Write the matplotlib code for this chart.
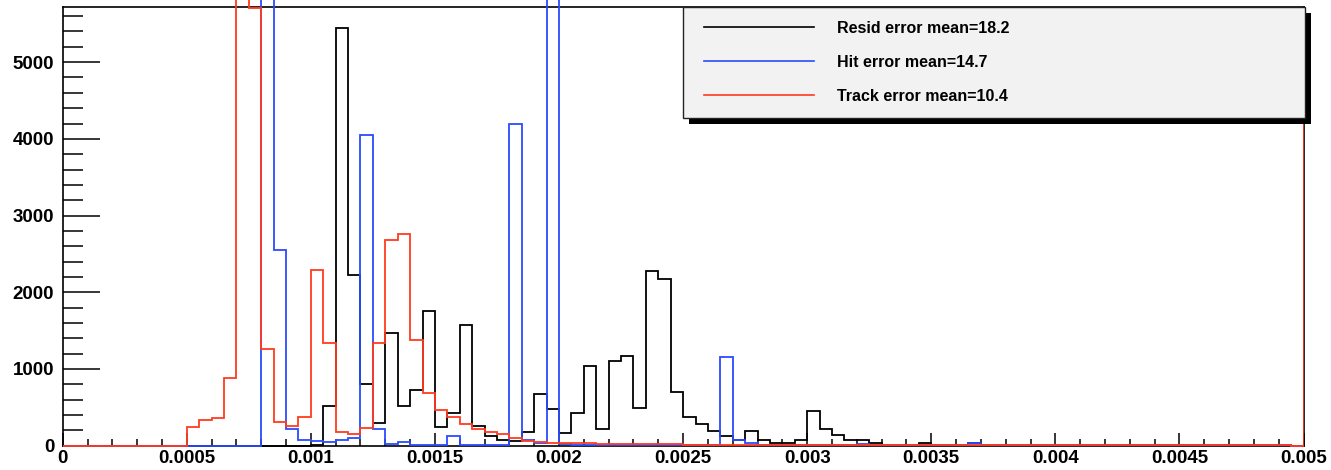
import matplotlib
matplotlib.use("Agg")
import matplotlib.pyplot as plt
import numpy as np
from matplotlib.lines import Line2D
from matplotlib.patches import Rectangle
from matplotlib.transforms import IdentityTransform
from matplotlib.legend_handler import HandlerLine2D
from matplotlib.ticker import MultipleLocator

plt.rcParams["font.family"] = ["Liberation Sans", "DejaVu Sans"]
plt.rcParams["font.weight"] = "bold"

# 100 bins from 0 to 0.005
x_range = (0.0, 0.005)
y_max = 5715

resid_counts = [
    0, 0, 0, 0, 0, 0, 0, 0, 0, 0,
    0, 0, 0, 0, 0, 0, 0, 0, 0, 0,
    10, 524, 5441, 2225, 798, 290, 1475, 515, 732, 1754,
    245, 425, 1571, 258, 120, 70, 60, 174, 680, 475,
    160, 425, 1034, 218, 1105, 1175, 497, 2274, 2175, 698,
    380, 284, 196, 131, 74, 196, 78, 30, 30, 78,
    449, 218, 144, 74, 74, 30, 10, 5, 5, 30,
    5, 5, 5, 30, 15, 15, 15, 5, 15, 15,
    5, 5, 15, 5, 5, 15, 5, 5, 5, 5,
    5, 5, 5, 15, 15, 5, 5, 5, 5, 0,
]
hit_counts = [
    0, 0, 0, 0, 0, 0, 0, 0, 0, 0,
    0, 0, 0, 0, 0, 0, 6500, 2555, 218, 76,
    65, 45, 76, 105, 4045, 218, 28, 45, 8, 5,
    5, 125, 5, 5, 5, 5, 4200, 70, 30, 6500,
    25, 12, 10, 5, 3, 3, 3, 3, 3, 3,
    3, 3, 3, 1156, 78, 30, 15, 3, 3, 3,
    3, 3, 3, 13, 25, 3, 3, 13, 13, 13,
    3, 3, 3, 30, 3, 3, 3, 3, 3, 3,
    3, 3, 3, 3, 3, 3, 3, 3, 3, 3,
    13, 13, 13, 3, 3, 3, 3, 3, 3, 0,
]
track_counts = [
    0, 0, 0, 0, 0, 0, 0, 0, 0, 0,
    240, 336, 363, 886, 6500, 5700, 1266, 305, 262, 371,
    2291, 1339, 174, 153, 227, 1339, 2675, 2757, 1383, 685,
    460, 380, 284, 218, 183, 158, 98, 65, 43, 40,
    40, 40, 40, 22, 20, 20, 20, 20, 20, 20,
    10, 10, 10, 10, 10, 10, 10, 10, 10, 10,
    5, 5, 5, 5, 5, 5, 5, 5, 5, 5,
    5, 5, 5, 5, 5, 5, 5, 5, 5, 5,
    5, 5, 5, 5, 5, 5, 5, 5, 5, 5,
    5, 5, 5, 5, 5, 5, 5, 5, 5, 0,
]

series_labels = ["Resid error mean=18.2", "Hit error mean=14.7", "Track error mean=10.4"]
series_colors = ["#000000", "#2b4bff", "#ff3b1f"]

x_ticks = [0, 0.0005, 0.001, 0.0015, 0.002, 0.0025, 0.003, 0.0035, 0.004, 0.0045, 0.005]
x_tick_labels = ["0", "0.0005", "0.001", "0.0015", "0.002", "0.0025",
                 "0.003", "0.0035", "0.004", "0.0045", "0.005"]
y_ticks = [0, 1000, 2000, 3000, 4000, 5000]
y_tick_labels = ["0", "1000", "2000", "3000", "4000", "5000"]

W, H, DPI = 1331, 470, 100
fig = plt.figure(figsize=(W / DPI, H / DPI), dpi=DPI)
ax = fig.add_axes([62.7 / W, 1 - 445.7 / H, (1303.5 - 62.7) / W, (445.7 - 7.3) / H])

edges = np.linspace(x_range[0], x_range[1], len(resid_counts) + 1)
for counts, color in zip([resid_counts, hit_counts, track_counts], series_colors):
    ax.stairs(counts, edges, baseline=0, color=color, lw=1.3, clip_on=False, zorder=3)
ax.axvline(edges[-1], color=series_colors[2], lw=1.3, zorder=3)

ax.set_xlim(*x_range)
ax.set_ylim(0, y_max)

tick_fs = 13.5
ax.set_xticks(x_ticks)
ax.set_xticklabels(x_tick_labels, fontsize=tick_fs, fontweight="bold")
ax.set_yticks(y_ticks)
ax.set_yticklabels(y_tick_labels, fontsize=tick_fs, fontweight="bold")
ax.xaxis.set_minor_locator(MultipleLocator(0.0001))
ax.yaxis.set_minor_locator(MultipleLocator(200))
ax.tick_params(axis="x", which="major", direction="in", length=9.4, width=1.1, pad=3)
ax.tick_params(axis="x", which="minor", direction="in", length=4.7, width=1.1)
ax.tick_params(axis="y", which="major", direction="in", length=26.6, width=1.1, pad=6)
ax.tick_params(axis="y", which="minor", direction="in", length=14.4, width=1.1)
for s in ax.spines.values():
    s.set_linewidth(1.2)

# legend, ROOT style box with a hard shadow
fs = 11.5
fs_px = fs * DPI / 72
handles = [Line2D([], [], color=c, lw=1.2) for c in series_colors]
leg = fig.legend(
    handles, series_labels,
    loc="upper left",
    bbox_to_anchor=(683 / W, 1 - 118 / H, (1305 - 683) / W, 111 / H),
    mode="expand", borderaxespad=0,
    prop={"size": fs, "weight": "bold"},
    frameon=True, fancybox=False, framealpha=1,
    facecolor="#f2f2f2", edgecolor="#222222",
    borderpad=14 / fs_px, labelspacing=19 / fs_px,
    handlelength=117 / fs_px, handletextpad=23 / fs_px,
    handler_map={Line2D: HandlerLine2D(xpad=7 / fs_px)},
)
leg.get_frame().set_linewidth(1.0)

fig.canvas.draw()
bb = leg.get_window_extent()
fig.add_artist(Rectangle((bb.x0 + 6, bb.y0 - 6), bb.width, bb.height,
                         transform=IdentityTransform(), facecolor="black",
                         edgecolor="none", zorder=leg.get_zorder() - 0.1))

fig.savefig("out.png", dpi=DPI)
